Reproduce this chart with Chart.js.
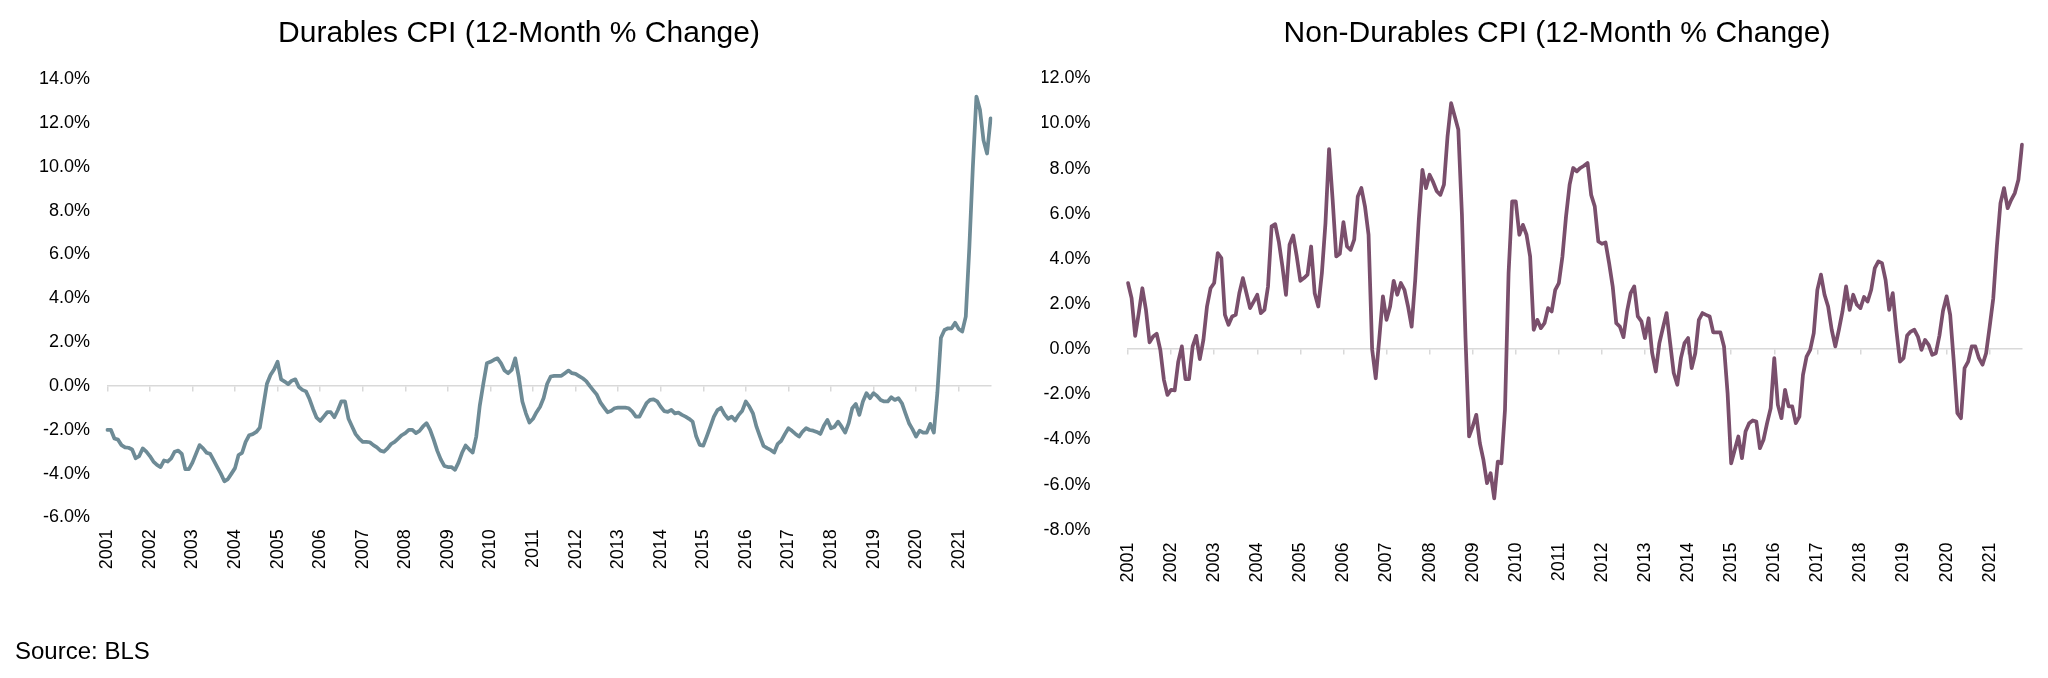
<!DOCTYPE html>
<html>
<head>
<meta charset="utf-8">
<script src="https://cdn.jsdelivr.net/npm/chart.js@4.4.0/dist/chart.umd.min.js"></script>
<style>
  body { margin: 0; background: #fff; width: 2048px; height: 678px; position: relative; overflow: hidden;
         font-family: 'Liberation Sans', Arial, sans-serif; }
  canvas { position: absolute; top: 0; }
  #durables { left: 0; }
  #nondurables { left: 1024px; }
  .source { position: absolute; left: 15px; top: 639px; font-size: 24px; line-height: 24px; color: #000; }
</style>
</head>
<body>
<canvas id="durables" width="1024" height="678"></canvas>
<canvas id="nondurables" width="1048" height="678"></canvas>
<div class="source">Source: BLS</div>
<script>
// monthly data, Jan 2001 - Oct 2021
const years = ['2001','2002','2003','2004','2005','2006','2007','2008','2009','2010','2011',
               '2012','2013','2014','2015','2016','2017','2018','2019','2020','2021'];

const durables = [
  -2.0, -2.0, -2.4, -2.45, -2.7, -2.8, -2.82, -2.9, -3.3, -3.2, -2.85, -3.0,
  -3.2, -3.45, -3.6, -3.7, -3.4, -3.45, -3.3, -3.0, -2.95, -3.1, -3.8, -3.8,
  -3.5, -3.1, -2.7, -2.85, -3.05, -3.1, -3.4, -3.7, -4.0, -4.35, -4.25, -4.0,
  -3.75, -3.15, -3.05, -2.55, -2.25, -2.2, -2.1, -1.9, -0.9, 0.1, 0.5, 0.75,
  1.1, 0.3, 0.2, 0.08, 0.24, 0.3, -0.05, -0.18, -0.25, -0.6, -1.05, -1.45,
  -1.6, -1.4, -1.2, -1.2, -1.43, -1.1, -0.7, -0.7, -1.5, -1.85, -2.2, -2.4,
  -2.55, -2.55, -2.57, -2.7, -2.8, -2.95, -3.0, -2.85, -2.65, -2.55, -2.4, -2.25,
  -2.15, -2.0, -2.0, -2.15, -2.05, -1.85, -1.7, -2.0, -2.45, -2.95, -3.35, -3.65,
  -3.7, -3.7, -3.83, -3.5, -3.05, -2.72, -2.89, -3.04, -2.31, -0.9, 0.1, 1.03,
  1.1, 1.19, 1.26, 1.03, 0.7, 0.58, 0.73, 1.26, 0.4, -0.71, -1.25, -1.67,
  -1.5, -1.2, -0.95, -0.55, 0.1, 0.43, 0.46, 0.46, 0.46, 0.58, 0.7, 0.58,
  0.55, 0.45, 0.35, 0.22, 0.0, -0.2, -0.4, -0.75, -0.98, -1.2, -1.14, -1.02,
  -0.99, -0.99, -0.99, -1.02, -1.17, -1.4, -1.4, -1.09, -0.79, -0.64, -0.61, -0.7,
  -0.95, -1.15, -1.18, -1.09, -1.25, -1.22, -1.32, -1.4, -1.5, -1.63, -2.3, -2.69,
  -2.72, -2.3, -1.86, -1.4, -1.1, -1.0, -1.3, -1.5, -1.4, -1.58, -1.32, -1.13,
  -0.71, -0.94, -1.25, -1.86, -2.31, -2.74, -2.84, -2.92, -3.04, -2.64, -2.5, -2.2,
  -1.93, -2.05, -2.19, -2.31, -2.08, -1.93, -2.01, -2.04, -2.1, -2.19, -1.82, -1.55,
  -1.93, -1.86, -1.63, -1.86, -2.13, -1.7, -1.02, -0.82, -1.32, -0.71, -0.33, -0.56,
  -0.33, -0.46, -0.64, -0.71, -0.71, -0.52, -0.64, -0.56, -0.79, -1.25, -1.7, -1.98,
  -2.31, -2.04, -2.13, -2.13, -1.73, -2.13, -0.3, 2.2, 2.55, 2.63, 2.63, 2.88,
  2.6, 2.48, 3.16, 6.3, 10.0, 13.2, 12.6, 11.2, 10.6, 12.2
];

const nonDurables = [
  2.93, 2.26, 0.59, 1.6, 2.7, 1.74, 0.3, 0.56, 0.68, -0.03, -1.36, -2.03,
  -1.8, -1.83, -0.55, 0.12, -1.33, -1.33, 0.12, 0.59, -0.44, 0.41, 1.89, 2.7,
  2.93, 4.26, 4.04, 1.52, 1.08, 1.45, 1.52, 2.48, 3.15, 2.48, 1.82, 2.11,
  2.41, 1.6, 1.74, 2.78, 5.44, 5.54, 4.77, 3.67, 2.41, 4.63, 5.04, 4.11,
  3.03, 3.15, 3.3, 4.55, 2.48, 1.89, 3.37, 5.59, 8.87, 6.62, 4.11, 4.23,
  5.63, 4.55, 4.4, 4.85, 6.77, 7.14, 6.33, 5.07, 0.0, -1.29, 0.49, 2.34,
  1.3, 1.89, 3.03, 2.41, 2.93, 2.63, 1.89, 1.0, 3.07, 5.74, 7.95, 7.14,
  7.73, 7.4, 7.0, 6.84, 7.29, 9.43, 10.9, 10.32, 9.73, 6.0, 0.5, -3.87,
  -3.43, -2.91, -4.17, -4.91, -5.94, -5.5, -6.61, -4.98, -5.06, -2.69, 3.37, 6.55,
  6.55, 5.07, 5.51, 5.07, 4.11, 0.86, 1.3, 0.93, 1.15, 1.82, 1.67, 2.63,
  2.93, 4.11, 5.88, 7.29, 8.03, 7.88, 8.03, 8.13, 8.25, 6.84, 6.33, 4.77,
  4.67, 4.73, 3.81, 2.78, 1.15, 1.0, 0.53, 1.67, 2.48, 2.78, 1.45, 1.23,
  0.49, 1.37, -0.18, -0.99, 0.27, 0.95, 1.6, 0.27, -1.06, -1.58, -0.4, 0.27,
  0.49, -0.84, -0.18, 1.3, 1.6, 1.52, 1.45, 0.74, 0.74, 0.74, 0.12, -1.95,
  -5.06, -4.46, -3.87, -4.83, -3.65, -3.28, -3.16, -3.21, -4.39, -4.02, -3.28, -2.62,
  -0.4, -2.47, -3.06, -1.8, -2.54, -2.54, -3.28, -2.99, -1.14, -0.33, -0.03, 0.71,
  2.63, 3.3, 2.41, 1.89, 0.86, 0.12, 0.86, 1.67, 2.78, 1.74, 2.41, 1.97,
  1.82, 2.31, 2.11, 2.63, 3.59, 3.89, 3.81, 3.07, 1.74, 2.48, 0.86, -0.55,
  -0.4, 0.6, 0.78, 0.86, 0.56, -0.03, 0.41, 0.19, -0.25, -0.18, 0.6, 1.7,
  2.34, 1.52, -0.55, -2.84, -3.06, -0.84, -0.55, 0.12, 0.12, -0.4, -0.69, -0.18,
  1.0, 2.26, 4.55, 6.47, 7.14, 6.25, 6.62, 6.92, 7.51, 9.06
];

const durablesRange = [-6, 14];
const nonDurablesRange = [-8, 12];
const tickStep = 2;

// category labels like 2001-01 ... built from the years list
const months = [];
years.forEach(y => {
  for (let m = 1; m <= 12; m++) months.push(y + '-' + String(m).padStart(2, '0'));
});

Chart.defaults.font.family = "'Liberation Sans', Arial, sans-serif";
Chart.defaults.color = '#000';

function makeChart(id, title, values, color, range, box) {
  return new Chart(document.getElementById(id), {
    type: 'line',
    data: {
      labels: months.slice(0, values.length),
      datasets: [{ data: values, borderColor: color, borderWidth: 3.75, pointRadius: 0,
                   tension: 0, borderJoinStyle: 'round', borderCapStyle: 'round' }]
    },
    options: {
      responsive: false, animation: false, devicePixelRatio: 1,
      layout: { padding: { left: box.left, right: box.right, top: 0, bottom: box.bottom } },
      plugins: {
        legend: { display: false },
        tooltip: { enabled: false },
        title: { display: true, text: title, color: '#000',
                 font: { size: 30, weight: 'normal' }, padding: { top: 16, bottom: box.titleGap } }
      },
      scales: {
        x: {
          type: 'category',
          grid: { display: false, drawTicks: false },
          border: { display: false },
          ticks: {
            autoSkip: false, maxRotation: 90, minRotation: 90, padding: box.xPad,
            color: '#000', font: { size: 18 },
            callback(v) {
              const l = this.getLabelForValue(v);
              return l.endsWith('-01') ? l.slice(0, 4) : '';
            }
          }
        },
        // zero line with yearly tick marks
        x2: {
          type: 'category',
          position: { y: 0 },
          grid: {
            drawOnChartArea: false, drawTicks: true, tickLength: 5, lineWidth: 1.5,
            color: c => (c.index % 12 === 0 ? '#d9d9d9' : 'rgba(0,0,0,0)')
          },
          border: { color: '#d9d9d9', width: 1.5 },
          ticks: { display: false }
        },
        y: {
          min: range[0], max: range[1],
          grid: { display: false, drawTicks: false },
          border: { display: false },
          ticks: { stepSize: tickStep, padding: box.yPad, color: '#000', font: { size: 18 },
                   callback: v => v.toFixed(1) + '%' },
          afterFit(s) { s.width = box.yWidth; }
        },
        // empty spacer on the right so the title sits where it should
        gap: {
          type: 'linear', position: 'right',
          grid: { display: false, drawTicks: false },
          border: { display: false },
          ticks: { display: false },
          afterFit(s) { s.width = box.gap; }
        }
      }
    }
  });
}

makeChart('durables', 'Durables CPI (12-Month % Change)', durables, '#6E8B96', durablesRange,
  { left: 30, right: 16, gap: 13, bottom: 96.9, yWidth: 77.3, yPad: 17.3, xPad: 11.8, titleGap: 27 });

makeChart('nondurables', 'Non-Durables CPI (12-Month % Change)', nonDurables, '#7A4F6C', nonDurablesRange,
  { left: 18, right: 0, gap: 50, bottom: 82.5, yWidth: 86, yPad: 37.4, xPad: 12.9, titleGap: 26.4 });
</script>
</body>
</html>
